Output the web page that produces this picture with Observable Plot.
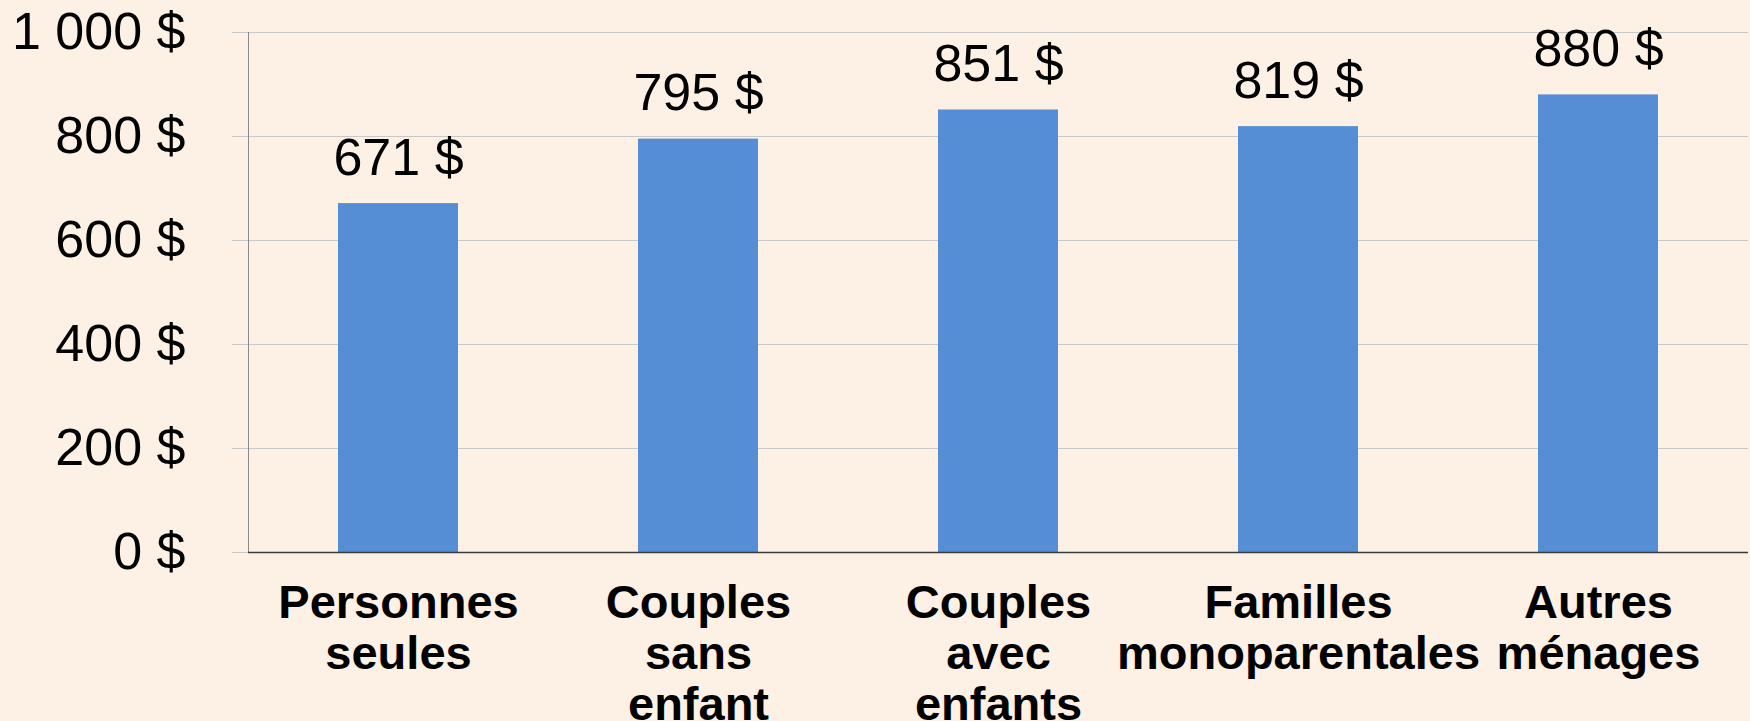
<!DOCTYPE html>
<html>
<head>
<meta charset="utf-8">
<script src="https://cdn.jsdelivr.net/npm/d3@7"></script>
<script src="https://cdn.jsdelivr.net/npm/@observablehq/plot@0.6"></script>
<style>
  html, body { margin: 0; padding: 0; background: #FDF0E4; }
  #chart svg { display: block; background: #FDF0E4; }
</style>
</head>
<body>
<div id="chart"></div>
<script>
const categories = ["Personnes seules", "Couples sans enfant", "Couples avec enfants", "Familles monoparentales", "Autres ménages"];
const categoryLabels = ["Personnes\nseules", "Couples\nsans\nenfant", "Couples\navec\nenfants", "Familles\nmonoparentales", "Autres\nménages"];
const values = [671, 795, 851, 819, 880];
const yTicks = [0, 200, 400, 600, 800, 1000];

const data = categories.map((c, i) => ({category: c, value: values[i]}));
const labelOf = new Map(categories.map((c, i) => [c, categoryLabels[i]]));
const money = d => d3.format(",")(d).replace(/,/g, " ") + " $";

const chart = Plot.plot({
  width: 1750,
  height: 721,
  marginLeft: 248,
  marginRight: 2,
  marginTop: 32,
  marginBottom: 169,
  style: {background: "#FDF0E4", fontFamily: "'Liberation Sans', Arial, sans-serif", color: "#000"},
  x: {domain: categories, paddingInner: 0.6, paddingOuter: 0.3},
  y: {domain: [0, 1000]},
  marks: [
    Plot.gridY(yTicks, {stroke: "#c8c8c8", strokeOpacity: 1}),
    Plot.frame({anchor: "left", stroke: "#8a8a8a"}),
    Plot.axisY(yTicks, {tickSize: 16, tickPadding: 47, stroke: "#c8c8c8", fontSize: 52, tickFormat: money, fill: "#000", label: null}),
    Plot.barY(data, {x: "category", y: "value", fill: "#568ED5"}),
    Plot.ruleY([0], {stroke: "#3a3a3a", strokeWidth: 1.5}),
    Plot.axisX({tickSize: 0, tickPadding: 29, fontSize: 47, fontWeight: "bold", lineHeight: 1.09, tickFormat: d => labelOf.get(d), fill: "#000", label: null}),
    Plot.text(data, {x: "category", y: "value", text: d => money(d.value), lineAnchor: "bottom", dy: -29, fontSize: 52, fill: "#000"})
  ]
});
document.getElementById("chart").appendChild(chart);
</script>
</body>
</html>
